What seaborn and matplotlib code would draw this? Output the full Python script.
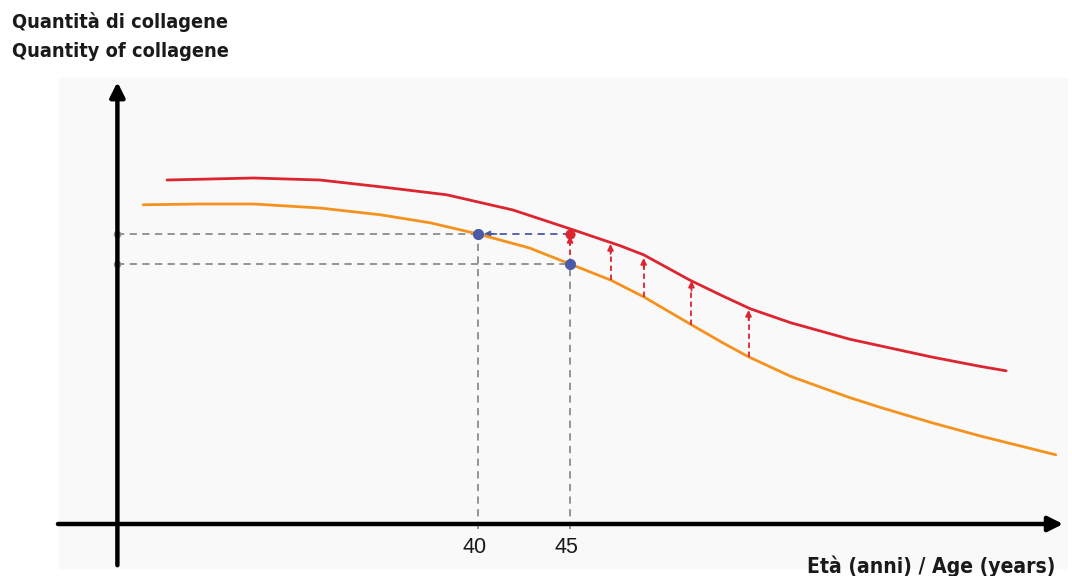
import matplotlib
matplotlib.use('Agg')
import matplotlib.pyplot as plt
import seaborn as sns
import pandas as pd
from matplotlib.patches import Rectangle

# ages (x) and collagen quantity (arbitrary units)
orange_age = [21.8, 24.9, 27.8, 31.4, 34.7, 37.4, 40.0, 42.8, 45.0, 47.2, 49.0,
              51.6, 53.3, 54.7, 57.0, 58.8, 60.2, 61.9, 64.6, 67.3, 71.4]
orange_qty = [79.8, 80.0, 80.0, 79.0, 77.3, 75.3, 72.5, 69.0, 65.0, 61.0, 56.8,
              49.8, 45.3, 41.8, 36.9, 33.9, 31.6, 29.1, 25.4, 22.0, 17.3]

red_age = [23.1, 27.8, 31.4, 34.7, 38.3, 41.9, 45.0, 47.7, 49.0, 51.5, 53.3,
           54.8, 57.0, 58.8, 60.2, 61.9, 64.6, 67.3, 68.7]
red_qty = [86.0, 86.5, 86.0, 84.3, 82.3, 78.5, 73.8, 69.6, 67.3, 61.0, 57.0,
           53.8, 50.3, 48.0, 46.2, 44.5, 41.8, 39.4, 38.3]

# markers at 40 and 45 years
mark_ages = [40, 45]
mark_qty = [72.5, 65.0]
red_mark_qty = 72.5

# red upward arrows (from orange curve to red curve)
arrow_ages = [47.2, 49.0, 51.6, 54.7]
arrow_from = [61.0, 56.8, 49.8, 41.8]
arrow_to = [70.0, 66.5, 60.8, 53.5]

tick_labels = ['40', '45']

ORANGE = '#f5921e'
RED = '#dc2530'
BLUE = '#4b5aa6'
GREY = '#8c8c8c'

sns.set_theme(style='white')
plt.rcParams['font.family'] = ['Liberation Sans', 'DejaVu Sans']

fig = plt.figure(figsize=(10.72, 5.76), dpi=100)
ax = fig.add_axes([0, 0, 1, 1])
ax.set_xlim(14.02, 72.28)
ax.set_ylim(-13, 131)
ax.axis('off')

# faint background panel
ax.add_patch(Rectangle((17.2, -11), 54.8, 122.5, color='#f9f9f9', zorder=0))

y_axis_age = 20.4
x_start, x_end = 17.17, 71.8

# dashed guides
ax.hlines(mark_qty[0], y_axis_age, mark_ages[0], colors=GREY, linestyles=(0, (4, 3)), lw=1.3, zorder=2)
ax.hlines(mark_qty[1], y_axis_age, mark_ages[1], colors=GREY, linestyles=(0, (4, 3)), lw=1.3, zorder=2)
for a, q in zip(mark_ages, mark_qty):
    ax.vlines(a, -1.2, q, colors=GREY, linestyles=(0, (4, 3)), lw=1.3, zorder=2)

# blue arrow from 45 to 40
ax.hlines(red_mark_qty, mark_ages[0] + 0.5, mark_ages[1], colors=BLUE, linestyles=(0, (4, 3)), lw=1.3, zorder=3)
ax.annotate('', xy=(mark_ages[0] + 0.3, red_mark_qty), xytext=(mark_ages[0] + 1.0, red_mark_qty),
            arrowprops=dict(arrowstyle='-|>', color=BLUE, lw=1.2, mutation_scale=9,
                            shrinkA=0, shrinkB=0), zorder=3)

# curves
df_orange = pd.DataFrame({'age': orange_age, 'qty': orange_qty})
df_red = pd.DataFrame({'age': red_age, 'qty': red_qty})
sns.lineplot(data=df_orange, x='age', y='qty', ax=ax, color=ORANGE, lw=2.0, zorder=4)
sns.lineplot(data=df_red, x='age', y='qty', ax=ax, color=RED, lw=2.0, zorder=4)

# red arrow at 45 and the others
ax.vlines(mark_ages[1], mark_qty[1], red_mark_qty - 1.5, colors=RED, linestyles=(0, (3, 2)), lw=1.3, zorder=5)
ax.annotate('', xy=(mark_ages[1], red_mark_qty - 0.5), xytext=(mark_ages[1], red_mark_qty - 2.5),
            arrowprops=dict(arrowstyle='-|>', color=RED, lw=1.2, mutation_scale=9,
                            shrinkA=0, shrinkB=0), zorder=5)
for a, lo, hi in zip(arrow_ages, arrow_from, arrow_to):
    ax.vlines(a, lo, hi - 1.5, colors=RED, linestyles=(0, (3, 2)), lw=1.3, zorder=5)
    ax.annotate('', xy=(a, hi), xytext=(a, hi - 2.5),
                arrowprops=dict(arrowstyle='-|>', color=RED, lw=1.2, mutation_scale=9,
                                shrinkA=0, shrinkB=0), zorder=5)

# dots
sns.scatterplot(x=mark_ages, y=mark_qty, ax=ax, color=BLUE, s=55, edgecolor=BLUE, zorder=6)
sns.scatterplot(x=[mark_ages[0]], y=[red_mark_qty], ax=ax, color=BLUE, s=45, edgecolor=BLUE, zorder=6)
sns.scatterplot(x=[mark_ages[1]], y=[red_mark_qty], ax=ax, color=RED, s=45, edgecolor=RED, zorder=6)
sns.scatterplot(x=[y_axis_age, y_axis_age], y=mark_qty, ax=ax, color=GREY, s=25, edgecolor=GREY, zorder=6)

# axes with arrow heads
ax.annotate('', xy=(x_end, 0), xytext=(x_start, 0),
            arrowprops=dict(arrowstyle='-|>', color='black', lw=3.2, mutation_scale=22,
                            shrinkA=0, shrinkB=0), zorder=7)
ax.annotate('', xy=(y_axis_age, 110.5), xytext=(y_axis_age, -10.3),
            arrowprops=dict(arrowstyle='-|>', color='black', lw=3.2, mutation_scale=22,
                            shrinkA=0, shrinkB=0), zorder=7)

# tick labels
for a, lab in zip(mark_ages, tick_labels):
    ax.text(a - 0.2, -5.8, lab, ha='center', va='center', fontsize=15.5, color='#1a1a1a')

# condensed bold titles
title_font = dict(family=['Liberation Sans Narrow', 'DejaVu Sans'], weight='bold', stretch='condensed',
                  color='#1a1a1a')
fig.text(12 / 1072, 1 - 12 / 576, 'Quantità di collagene', ha='left', va='top', fontsize=14.3, **title_font)
fig.text(12 / 1072, 1 - 42 / 576, 'Quantity of collagene', ha='left', va='top', fontsize=14.3, **title_font)
fig.text(1055 / 1072, 1 - 566 / 576, 'Età (anni) / Age (years)', ha='right', va='center', fontsize=15.1,
         **title_font)

fig.savefig('out.png', dpi=100)
